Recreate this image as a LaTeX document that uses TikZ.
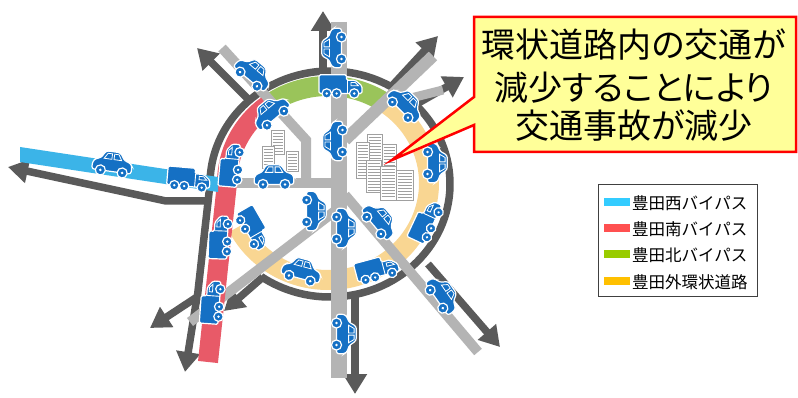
\documentclass[tikz,border=0pt]{standalone}
\usepackage{fontspec}
\setmainfont{Noto Sans CJK JP}
\newfontfamily\jpprop[RawFeature=+palt]{Noto Sans CJK JP}
\usetikzlibrary{arrows.meta}

\definecolor{roadgray}{HTML}{B4B4B4}
\definecolor{flowgray}{HTML}{5A5A5A}
\definecolor{carblue}{HTML}{1570C4}
\definecolor{westblue}{HTML}{3BB4E8}
\definecolor{southred}{HTML}{E85A68}
\definecolor{northgreen}{HTML}{9AC45A}
\definecolor{outerorange}{HTML}{F9D692}
\definecolor{calloutfill}{HTML}{FFFF99}
\definecolor{legcyan}{HTML}{33CCFF}
\definecolor{legred}{HTML}{FF5050}
\definecolor{leggreen}{HTML}{99CC00}
\definecolor{legorange}{HTML}{FFC000}
\definecolor{bldgray}{HTML}{A0A0A0}

\tikzset{
  flow/.style={draw=flowgray, line width=7.5pt, line join=miter},
  flowarrow/.style={flow, -{Triangle[length=20pt,width=23pt]}},
  road/.style={draw=roadgray, line width=#1},
  road/.default=10pt,
  ringband/.style={line width=20pt},
  legswatch/.style={minimum width=26pt, minimum height=8pt, inner sep=0pt},
  legtext/.style={anchor=west, inner sep=0pt, font=\fontsize{16.5}{20}\selectfont},
  calltext/.style={inner sep=0pt, font=\fontsize{34}{40}\selectfont\jpprop},
  car/.pic={
    \begin{scope}[scale=1.1]
    \filldraw[fill=carblue, draw=white, line width=1.2pt, rounded corners=2.5pt]
      (-18,5) -- (-18,-2) -- (-15,-5) -- (-11,-6) -- (-7,-13) -- (6,-13) -- (11,-6)
      -- (16,-5) -- (18,-2) -- (18,5) -- cycle;
    \draw[white, line width=0.8pt] (-8,-6) -- (-5,-11) -- (-1,-11) -- (-1,-6) -- cycle;
    \draw[white, line width=0.8pt] (1,-6) -- (1,-11) -- (5,-11) -- (8,-6) -- cycle;
    \filldraw[fill=carblue, draw=white, line width=1.2pt] (-10,5) circle (4.6) (10,5) circle (4.6);
    \fill[white] (-10,5) circle (1.3) (10,5) circle (1.3);
    \end{scope}
  },
  truck/.pic={
    \begin{scope}[scale=1.1]
    \filldraw[fill=carblue, draw=white, line width=1.2pt, rounded corners=1.5pt]
      (-20,5) -- (-20,-12) -- (5,-12) -- (5,-7) -- (13,-7) -- (19,-2) -- (19,5) -- cycle;
    \draw[white, line width=0.9pt] (5.5,-7) -- (5.5,5);
    \draw[white, line width=0.8pt] (9,-5) -- (13,-5) -- (16,-2) -- (9,-2) -- cycle;
    \filldraw[fill=carblue, draw=white, line width=1.2pt]
      (-13,5) circle (4.3) (-4,5) circle (4.3) (12,5) circle (4.3);
    \fill[white] (-13,5) circle (1.2) (-4,5) circle (1.2) (12,5) circle (1.2);
    \end{scope}
  }
}

% a striped office block, given by its top-left corner, width and height
\newcommand\tower[4]{%
  \filldraw[fill=white, draw=bldgray, line width=0.7pt] (#1,#2) rectangle ++(#3,#4);
  \pgfmathtruncatemacro\nstripes{(#4-2)/3}%
  \foreach \k in {1,...,\nstripes}{%
    \draw[bldgray, line width=0.5pt] (#1+1.5,#2+3*\k) -- ++(#3-3,0);}%
}

\begin{document}
\begin{tikzpicture}[x=1pt,y=-1pt]
\useasboundingbox[fill=white] (0,0) rectangle (798,398);

% ---- dark traffic flows around and out of the ring ----
\draw[flow] ([shift={(125:120 and 113)}]330,184)
  arc[start angle=125, end angle=-180, x radius=120, y radius=113] -- (197,300);
\coordinate (splitL) at (197,297);
\draw[flowarrow] (splitL) -- (150,328);
\draw[flowarrow] (splitL) -- (185,372);
\draw[flowarrow] (211,201) -- (166,201) -- (8,167);
\draw[flowarrow] (250,101) -- (197,48);
\draw[flowarrow] (323,75) -- (323,11);
\draw[flowarrow] (390,88) -- (438,36);
\draw[flowarrow] (415,105) -- (464,77);
\draw[flowarrow] (263,277) -- (224,311);
\draw[flowarrow] (355,294) -- (355,394);
\draw[flowarrow] (428,264) -- (500,347);

% ---- outer ring road, by section ----
\draw[outerorange, ringband] ([shift={(153:101 and 97)}]328,183)
  arc[start angle=153, end angle=-57, x radius=101, y radius=97];
\draw[northgreen, ringband] ([shift={(-57:101 and 97)}]328,183)
  arc[start angle=-57, end angle=-127, x radius=101, y radius=97];

% ---- local roads ----
\draw[road=16pt] (339,22) -- (339,378);
\draw[road] (237,183) -- (339,183);
\draw[road] (222,48) -- (306,140) -- (306,183);
\draw[road=12pt] (345,140) -- (433,56);
\draw[road=9pt] (403,100) -- (443,90);
\draw[road] (345,195) -- (478,352);
\draw[road] (335,211) -- (190,322);

% ---- bypasses ----
\draw[southred, ringband] ([shift={(-127:101 and 97)}]328,183)
  arc[start angle=-127, end angle=-180, x radius=101, y radius=97] -- (208,362);
\fill[westblue] (20,147) -- (218,177) -- (218,192) -- (20,162) -- cycle;

% ---- buildings ----
\tower{271}{130}{13}{24}
\tower{262}{146}{12}{22}
\tower{286}{151}{12}{20}
\tower{367}{134}{15}{30}
\tower{356}{142}{13}{36}
\tower{382}{144}{14}{30}
\tower{366}{160}{15}{32}
\tower{380}{166}{16}{34}
\tower{396}{170}{17}{30}

% ---- vehicles ----
\pic[rotate=90]  at (336,48)  {car};
\pic[rotate=-40] at (252,75)  {car};
\pic             at (341,88)  {truck};
\pic[rotate=40]  at (272,114) {car};
\pic[rotate=-45] at (404,106) {car};
\pic[rotate=90]  at (337,141) {car};
\pic[rotate=85]  at (233,165) {truck};
\pic             at (274,179) {car};
\pic[rotate=-5]  at (189,181) {truck};
\pic[rotate=-8]  at (112,166) {car};
\pic[rotate=-90] at (433,163) {car};
\pic[rotate=65]  at (428,222) {truck};
\pic[rotate=88]  at (222,237) {truck};
\pic[rotate=-60] at (252,230) {truck};
\pic[rotate=-90] at (312,211) {car};
\pic[rotate=-90] at (342,228) {car};
\pic[rotate=-50] at (378,222) {car};
\pic[rotate=86]  at (214,302) {truck};
\pic[rotate=-15] at (301,273) {car};
\pic[rotate=15]  at (378,271) {truck};
\pic[rotate=-90] at (342,334) {car};
\pic[rotate=-55] at (441,296) {car};

% ---- callout ----
\filldraw[fill=calloutfill, draw=red, line width=2.5pt, line join=miter]
  (474,17) -- (796,17) -- (796,152) -- (474,152) -- (474,125) -- (392,160) -- (474,97) -- cycle;
\node[calltext] (c1) at (634,45)  {環状道路内の交通が};
\node[calltext] (c2) at (634,88)  {減少することにより};
\node[calltext] (c3) at (634,126) {交通事故が減少};

% ---- legend ----
\draw[draw=black!75, line width=1pt] (598,185) rectangle (757,296);
\node[legswatch, fill=legcyan]   (s1) at (617,202) {};
\node[legswatch, fill=legred]    (s2) at (617,228) {};
\node[legswatch, fill=leggreen]  (s3) at (617,254) {};
\node[legswatch, fill=legorange] (s4) at (617,281) {};
\node[legtext] (t1) at (632,203) {豊田西バイパス};
\node[legtext] (t2) at (632,229) {豊田南バイパス};
\node[legtext] (t3) at (632,255) {豊田北バイパス};
\node[legtext] (t4) at (632,282) {豊田外環状道路};
\end{tikzpicture}
\end{document}
